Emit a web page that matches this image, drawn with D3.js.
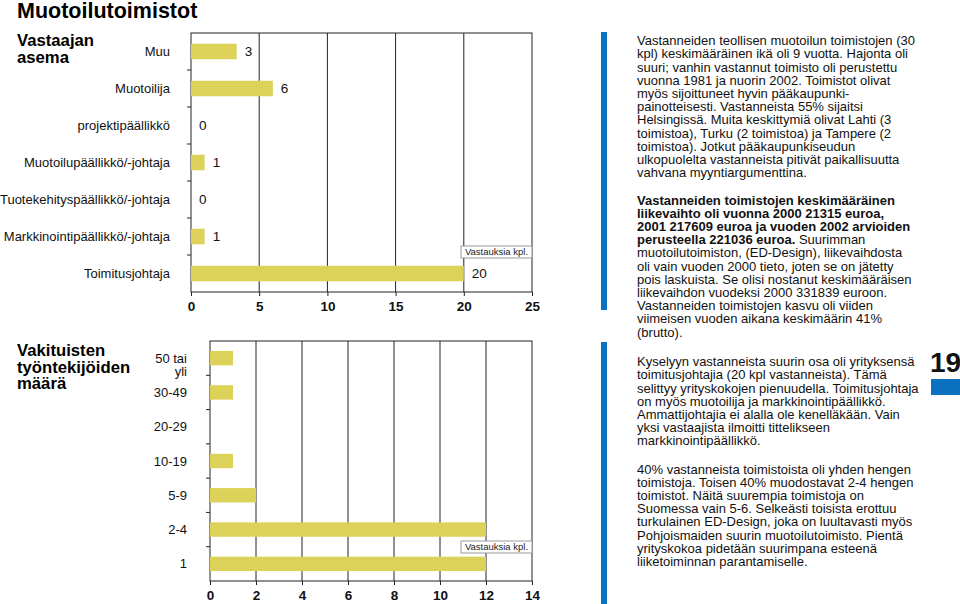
<!DOCTYPE html>
<html>
<head>
<meta charset="utf-8">
<title>Muotoilutoimistot</title>
<script src="https://d3js.org/d3.v7.min.js"></script>
<style>
  body { margin: 0; background: #fff; }
  svg { display: block; font-family: "Liberation Sans", Arial, Helvetica, sans-serif; }
</style>
</head>
<body>
<svg width="960" height="604"></svg>
<script>
// vastaajan asema
var roleCategories = ["Muu", "Muotoilija", "projektipäällikkö", "Muotoilupäällikkö/-johtaja",
  "Tuotekehityspäällikkö/-johtaja", "Markkinointipäällikkö/-johtaja", "Toimitusjohtaja"];
var roleValues = [3.35, 6, 0, 1, 0, 1, 20];
var roleLabels = ["3", "6", "0", "1", "0", "1", "20"];
var roleTicks = [0, 5, 10, 15, 20, 25];

// vakituisten työntekijöiden määrä
var sizeCategories = ["50 tai|yli", "30-49", "20-29", "10-19", "5-9", "2-4", "1"];
var sizeValues = [1, 1, 0, 1, 2, 12, 12];
var sizeTicks = [0, 2, 4, 6, 8, 10, 12, 14];

// tekstit oikealla
var block1 = [
  "Vastanneiden teollisen muotoilun toimistojen (30",
  "kpl) keskimääräinen ikä oli 9 vuotta. Hajonta oli",
  "suuri; vanhin vastannut toimisto oli perustettu",
  "vuonna 1981 ja nuorin 2002.  Toimistot olivat",
  "myös sijoittuneet hyvin pääkaupunki-",
  "painotteisesti. Vastanneista 55% sijaitsi",
  "Helsingissä. Muita keskittymiä olivat Lahti (3",
  "toimistoa), Turku (2 toimistoa) ja Tampere (2",
  "toimistoa). Jotkut pääkaupunkiseudun",
  "ulkopuolelta vastanneista pitivät paikallisuutta",
  "vahvana myyntiargumenttina."
];
// [lihavoitu osa, normaali osa]
var block2 = [
  ["Vastanneiden toimistojen keskimääräinen", ""],
  ["liikevaihto oli  vuonna 2000 21315 euroa,", ""],
  ["2001 217609 euroa ja vuoden 2002 arvioiden", ""],
  ["perusteella 221036 euroa.", " Suurimman"],
  ["", "muotoilutoimiston, (ED-Design), liikevaihdosta"],
  ["", "oli vain vuoden 2000 tieto, joten se on jätetty"],
  ["", "pois laskuista. Se olisi nostanut keskimääräisen"],
  ["", "liikevaihdon vuodeksi 2000 331839 euroon."],
  ["", "Vastanneiden toimistojen kasvu oli viiden"],
  ["", "viimeisen vuoden aikana keskimäärin 41%"],
  ["", "(brutto)."]
];
var block3 = [
  "Kyselyyn vastanneista suurin osa oli yrityksensä",
  "toimitusjohtajia (20 kpl vastanneista). Tämä",
  "selittyy yrityskokojen pienuudella. Toimitusjohtaja",
  "on myös muotoilija ja markkinointipäällikkö.",
  "Ammattijohtajia ei alalla ole kenelläkään. Vain",
  "yksi vastaajista ilmoitti tittelikseen",
  "markkinointipäällikkö."
];
var block4 = [
  "40% vastanneista toimistoista oli yhden hengen",
  "toimistoja. Toisen 40% muodostavat 2-4 hengen",
  "toimistot.  Näitä suurempia toimistoja on",
  "Suomessa vain 5-6. Selkeästi toisista erottuu",
  "turkulainen ED-Design, joka on luultavasti myös",
  "Pohjoismaiden suurin muotoilutoimisto. Pientä",
  "yrityskokoa pidetään suurimpana esteenä",
  "liiketoiminnan parantamiselle."
];

var barColor = "#dcd25a";
var blue = "#0b72c2";
var svg = d3.select("svg");

// otsikko
svg.append("text").attr("x", 17).attr("y", 18)
  .attr("font-size", 21.5).attr("font-weight", "bold").text("Muotoilutoimistot");

function sectionTitle(lines, y0) {
  lines.forEach(function (l, i) {
    svg.append("text").attr("font-size", 16.7).attr("font-weight", "bold")
      .attr("x", 17).attr("y", y0 + i * 16.5).text(l);
  });
}
sectionTitle(["Vastaajan", "asema"], 46);
sectionTitle(["Vakituisten", "työntekijöiden", "määrä"], 356);

// piirtää yhden vaakapylväskaavion
function barChart(opts) {
  var x = d3.scaleLinear().domain(opts.domain).range([opts.left, opts.right]);
  var y = d3.scaleBand().domain(opts.categories).range([opts.top, opts.bottom]).paddingInner(0.58).paddingOuter(0.29);
  var step = y.step();
  var g = svg.append("g");

  // pystyviivat
  g.selectAll(".grid").data(opts.ticks.slice(1, -1)).enter().append("line")
    .attr("x1", function (d) { return x(d); }).attr("x2", function (d) { return x(d); })
    .attr("y1", opts.top).attr("y2", opts.bottom)
    .attr("stroke", "#222").attr("stroke-width", 1);

  // kehys
  g.append("rect").attr("x", opts.left).attr("y", opts.top)
    .attr("width", opts.right - opts.left).attr("height", opts.bottom - opts.top)
    .attr("fill", "none").attr("stroke", "#222").attr("stroke-width", 1);

  // palkit
  g.selectAll(".bar").data(opts.values).enter().append("rect")
    .attr("x", x(0))
    .attr("y", function (d, i) { return y(opts.categories[i]); })
    .attr("width", function (d) { return x(d) - x(0); })
    .attr("height", y.bandwidth())
    .attr("fill", barColor);

  // alempi akseli
  var xAxis = g.append("g").attr("transform", "translate(0," + opts.bottom + ")")
    .call(d3.axisBottom(x).tickValues(opts.ticks).tickSize(4).tickFormat(d3.format("d")));
  xAxis.select(".domain").remove();
  xAxis.selectAll("line").attr("stroke", "#222");
  xAxis.selectAll("text").attr("font-size", 13.5).attr("font-weight", "bold")
    .attr("font-family", "Liberation Sans, Arial, sans-serif").attr("fill", "#111").attr("dy", "0.9em");

  // vasen akselin väkäset kategorioiden väliin
  var bounds = d3.range(1, opts.categories.length).map(function (i) { return opts.top + i * step; });
  g.selectAll(".ytick").data(bounds).enter().append("line")
    .attr("x1", opts.left - 4).attr("x2", opts.left)
    .attr("y1", function (d) { return d; }).attr("y2", function (d) { return d; })
    .attr("stroke", "#222");

  // kategoriat
  opts.categories.forEach(function (c, i) {
    var parts = c.split("|");
    var t = g.append("text").attr("text-anchor", "end").attr("font-size", opts.labelSize).attr("fill", "#111");
    parts.forEach(function (p, j) {
      t.append("tspan").attr("x", opts.labelRight)
        .attr("y", y(c) + y.bandwidth() / 2 + j * 13.5)
        .attr("dy", "0.35em").text(p);
    });
  });

  // arvot
  if (opts.labels) {
    g.selectAll(".val").data(opts.values).enter().append("text")
      .attr("x", function (d) { return x(d) + 8; })
      .attr("y", function (d, i) { return y(opts.categories[i]) + y.bandwidth() / 2; })
      .attr("dy", "0.35em").attr("font-size", 13.5).attr("fill", "#111")
      .text(function (d, i) { return opts.labels[i]; });
  }

  // "Vastauksia kpl." laatikko
  var bx = opts.right - 71, by = opts.boxY;
  g.append("rect").attr("x", bx).attr("y", by).attr("width", 71).attr("height", 12)
    .attr("fill", "#fff").attr("stroke", "#999").attr("stroke-width", 1);
  g.append("text").attr("x", bx + 35.5).attr("y", by + 6).attr("dy", "0.35em")
    .attr("text-anchor", "middle").attr("font-size", 9.5).attr("fill", "#222").text("Vastauksia kpl.");
}

barChart({
  categories: roleCategories, values: roleValues, labels: roleLabels, ticks: roleTicks,
  domain: [0, 25], left: 191, right: 532, top: 33, bottom: 292,
  labelRight: 170, labelSize: 13, boxY: 246
});

barChart({
  categories: sizeCategories, values: sizeValues, labels: null, ticks: sizeTicks,
  domain: [0, 14], left: 210, right: 532, top: 341, bottom: 581,
  labelRight: 187, labelSize: 13, boxY: 541
});

// oikean reunan tekstit
svg.append("rect").attr("x", 601).attr("y", 32).attr("width", 6).attr("height", 278).attr("fill", blue);
svg.append("rect").attr("x", 601).attr("y", 342).attr("width", 6).attr("height", 262).attr("fill", blue);

var lh = 13.2;
function textBlock(lines, y0) {
  var t = svg.append("text").attr("font-size", 13).attr("fill", "#111");
  lines.forEach(function (l, i) {
    var ts = t.append("tspan").attr("x", 637).attr("y", y0 + i * lh).attr("dy", "0.35em");
    if (Array.isArray(l)) {
      if (l[0]) ts.append("tspan").attr("font-weight", "bold").text(l[0]);
      if (l[1]) ts.append("tspan").text(l[1]);
    } else {
      ts.text(l);
    }
  });
}
textBlock(block1, 40.7);
textBlock(block2, 200);
textBlock(block3, 361.7);
textBlock(block4, 469);

// sivunumero
svg.append("text").attr("x", 930).attr("y", 372).attr("font-size", 28).attr("font-weight", "bold")
  .attr("fill", "#111").text("19");
svg.append("rect").attr("x", 931).attr("y", 379).attr("width", 29).attr("height", 16).attr("fill", blue);
</script>
</body>
</html>
